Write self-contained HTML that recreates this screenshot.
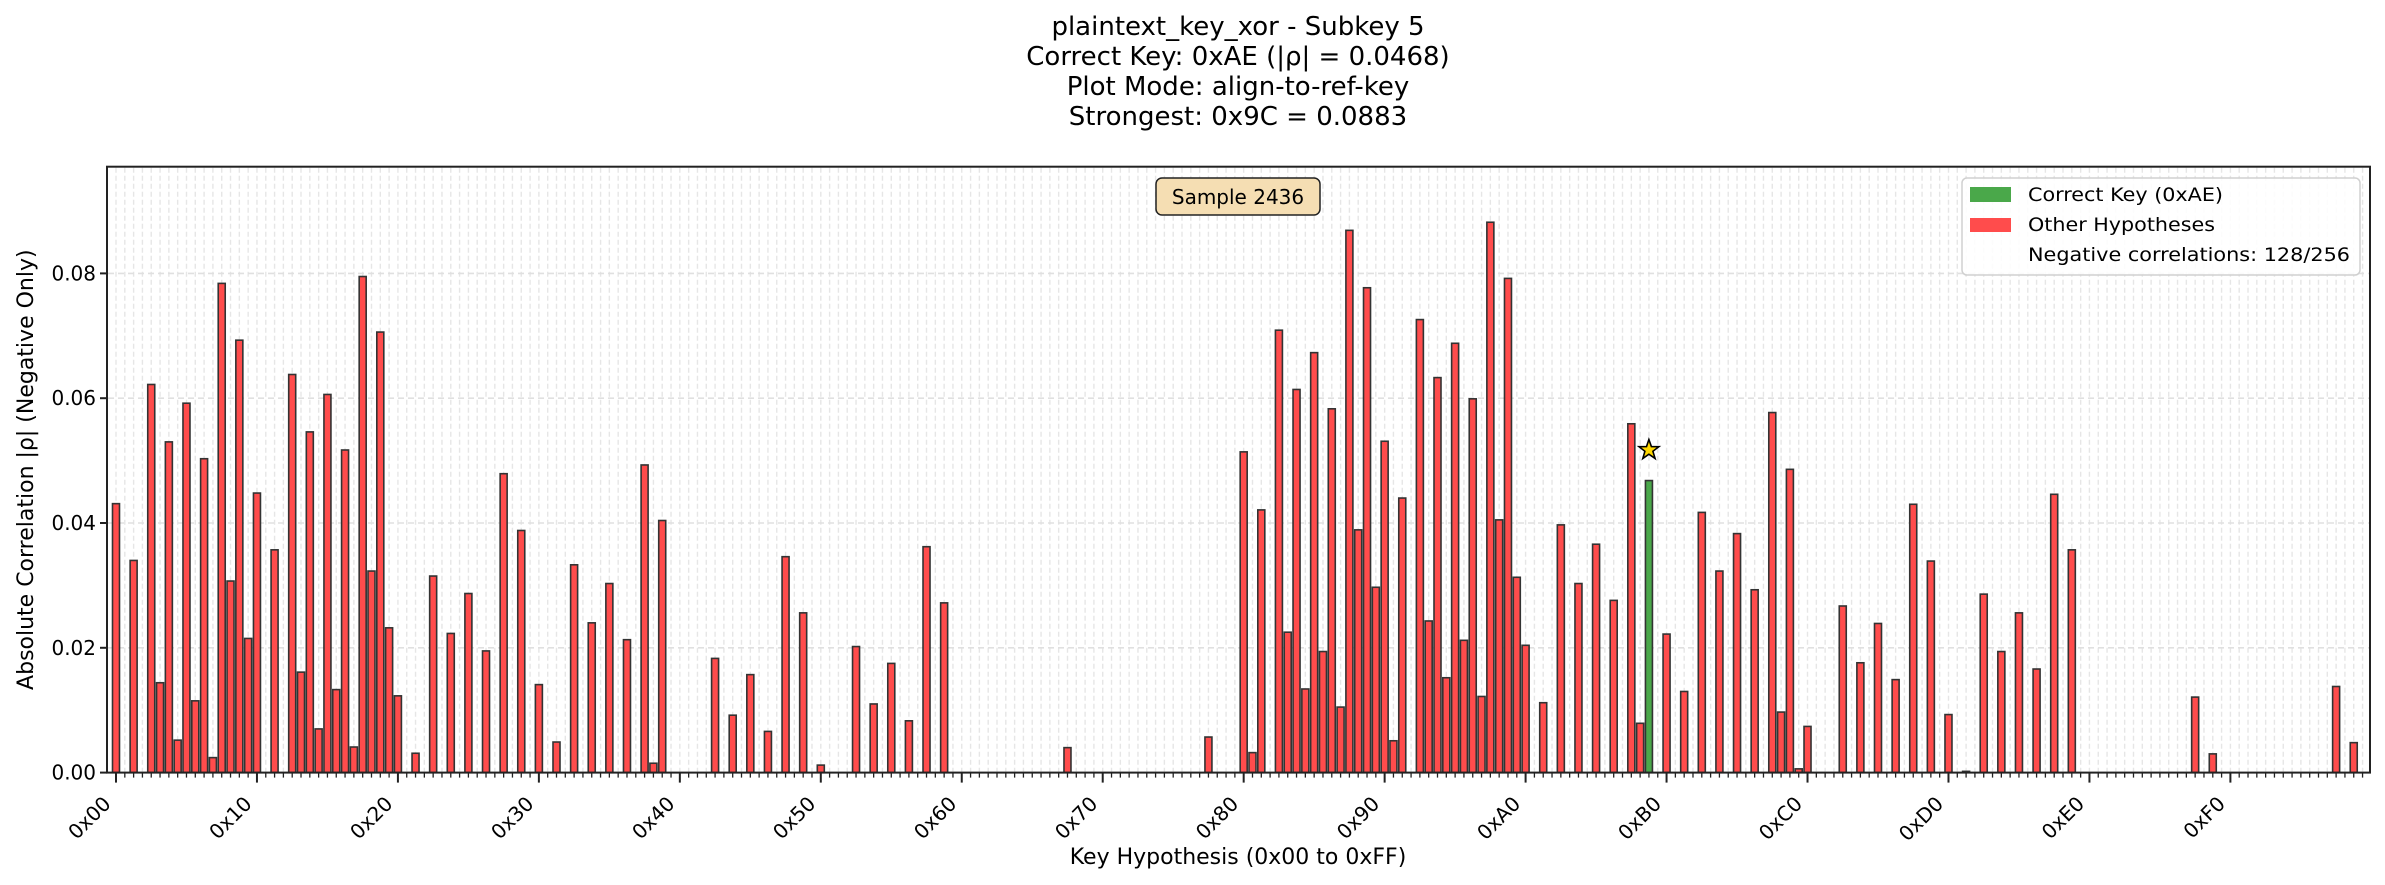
<!DOCTYPE html>
<html><head><meta charset="utf-8"><style>
html,body{margin:0;padding:0;background:#fff;}
svg{display:block;font-family:"DejaVu Sans","Liberation Sans",sans-serif;}
</style></head><body>
<svg id="s" width="2385" height="885" viewBox="0 0 2385 885" xmlns="http://www.w3.org/2000/svg">
<rect width="2385" height="885" fill="#fff"/>
<g id="grid"></g>
<g id="bars"></g>
<g id="ticks"></g>
<rect x="107" y="166.7" width="2263" height="605.9" fill="none" stroke="#222" stroke-width="2"/>
<g font-size="26" text-anchor="middle" fill="#000">
<text x="1238" y="35">plaintext_key_xor - Subkey 5</text>
<text x="1238" y="65">Correct Key: 0xAE (|ρ| = 0.0468)</text>
<text x="1238" y="95">Plot Mode: align-to-ref-key</text>
<text x="1238" y="125">Strongest: 0x9C = 0.0883</text>
</g>
<text x="1238" y="864" font-size="22" text-anchor="middle">Key Hypothesis (0x00 to 0xFF)</text>
<text transform="translate(33,469.7) rotate(-90)" font-size="22" text-anchor="middle">Absolute Correlation |ρ| (Negative Only)</text>
<rect x="1156" y="178" width="164" height="37" rx="6" fill="#f5deb3" stroke="#222" stroke-width="1.5"/>
<text x="1238" y="204" font-size="20" text-anchor="middle">Sample 2436</text>
<rect x="1962" y="178" width="398" height="97" rx="5" fill="#fff" fill-opacity="0.85" stroke="#d0d0d0" stroke-width="1.5"/>
<rect x="1970" y="187" width="41" height="15" fill="#4aa84a"/>
<rect x="1970" y="218" width="41" height="14" fill="#ff4c4c"/>
<g font-size="19" fill="#000">
<text x="2028" y="201" textLength="195" lengthAdjust="spacingAndGlyphs">Correct Key (0xAE)</text>
<text x="2028" y="231" textLength="187" lengthAdjust="spacingAndGlyphs">Other Hypotheses</text>
<text x="2028" y="261" textLength="322" lengthAdjust="spacingAndGlyphs">Negative correlations: 128/256</text>
</g>
</svg>
<script>
var data={0:.0431,2:.034,4:.0622,5:.0144,6:.053,7:.0052,8:.0592,9:.0115,10:.0503,11:.0024,12:.0784,13:.0307,14:.0693,15:.0215,16:.0448,18:.0357,20:.0638,21:.0161,22:.0546,23:.007,24:.0606,25:.0133,26:.0517,27:.0041,28:.0795,29:.0323,30:.0706,31:.0232,32:.0123,34:.0031,36:.0315,38:.0223,40:.0287,42:.0195,44:.0479,46:.0388,48:.0141,50:.0049,52:.0333,54:.024,56:.0303,58:.0213,60:.0493,61:.0015,62:.0404,68:.0183,70:.0092,72:.0157,74:.0066,76:.0346,78:.0256,80:.0012,84:.0202,86:.011,88:.0175,90:.0083,92:.0362,94:.0272,108:.004,124:.0057,
128:.0514,129:.0032,130:.0421,132:.0709,133:.0225,134:.0614,135:.0134,136:.0673,137:.0194,138:.0583,139:.0105,140:.0869,141:.0389,142:.0777,143:.0297,144:.0531,145:.0051,146:.044,148:.0726,149:.0243,150:.0633,151:.0152,152:.0688,153:.0212,154:.0599,155:.0122,156:.0882,157:.0405,158:.0792,159:.0313,160:.0204,162:.0112,164:.0397,166:.0303,168:.0366,170:.0276,172:.0559,173:.0079,174:.0468,176:.0222,178:.013,180:.0417,182:.0323,184:.0383,186:.0293,188:.0577,189:.0097,190:.0486,191:.0006,192:.0074,196:.0267,198:.0176,200:.0239,202:.0149,204:.043,206:.0339,208:.0093,210:.0002,212:.0286,214:.0194,216:.0256,218:.0166,220:.0446,222:.0357,236:.0121,238:.003,252:.0138,254:.0048};
var NS="http://www.w3.org/2000/svg";
function el(t,a,p){var e=document.createElementNS(NS,t);for(var k in a)e.setAttribute(k,a[k]);p.appendChild(e);return e;}
var Y0=772.6,S=6240;function cx(i){return 116+8.81*i;}function y(v){return Y0-S*v;}
var g=document.getElementById('grid'),b=document.getElementById('bars'),t=document.getElementById('ticks');
for(var i=0;i<256;i++){el('line',{x1:cx(i),x2:cx(i),y1:167.7,y2:771.6,stroke:'#e6e6e6','stroke-width':1.4,'stroke-dasharray':'5,3'},g);
 var maj=(i%16==0);el('line',{x1:cx(i),x2:cx(i),y1:Y0,y2:Y0+(maj?10:5),stroke:'#222','stroke-width':maj?2:1.3},t);
 if(maj){var tx=el('text',{x:cx(i)-4,y:805,'font-size':20,'text-anchor':'end',transform:'rotate(-45 '+(cx(i)-4)+' 805)'},t);tx.textContent='0x'+('0'+i.toString(16).toUpperCase()).slice(-2);}
}
for(var k=0;k<=4;k++){var v=k*0.02;if(k>0)el('line',{x1:108,x2:2369,y1:y(v),y2:y(v),stroke:'#e0e0e0','stroke-width':1.6,'stroke-dasharray':'6,4'},g);
 el('line',{x1:100,x2:107,y1:y(v),y2:y(v),stroke:'#222','stroke-width':2},t);
 var tt=el('text',{x:96,y:y(v)+7,'font-size':20,'text-anchor':'end'},t);tt.textContent=v.toFixed(2);}
for(var key in data){var i=+key,v=data[key],h=S*v;
 el('rect',{x:cx(i)-3.5,y:Y0-h,width:7,height:h,fill:i==174?'#4aa84a':'#ff4c4c',stroke:'#333','stroke-width':1.6},b);}
var sx=cx(174),sy=y(0.0517),pts=[];for(var j=0;j<10;j++){var r=j%2?4.2:10.5,a=-Math.PI/2+j*Math.PI/5;pts.push((sx+r*Math.cos(a)).toFixed(1)+','+(sy+r*Math.sin(a)).toFixed(1));}
el('polygon',{points:pts.join(' '),fill:'#ffd700',stroke:'#000','stroke-width':1.6},b);
</script>
</body></html>
